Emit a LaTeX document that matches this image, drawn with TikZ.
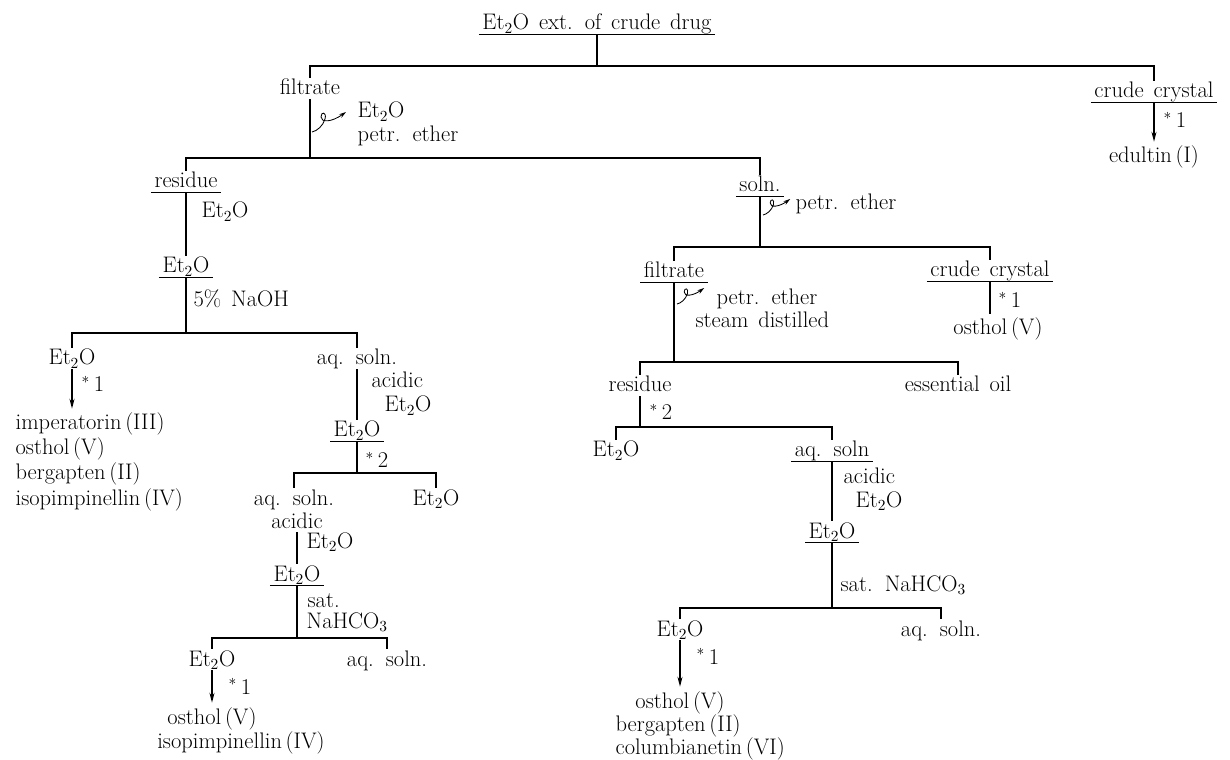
\documentclass[tikz,border=0pt]{standalone}
\usepackage{tikz}
\usetikzlibrary{arrows.meta}
\tikzset{
  curl/.pic={\draw[line width=0.6pt,-{Stealth[length=5pt,width=3pt]}] (0,0) .. controls (5,-1) and (11,-6) .. (13,-13) .. controls (15,-20) and (9,-21) .. (9,-15) .. controls (9,-9) and (20,-10) .. (34,-20);}
}

\begin{document}
\begin{tikzpicture}[x=0.025cm, y=-0.025cm, line width=1.2pt,
    font={\fontsize{16}{20}\selectfont\spaceskip=7pt\relax},
    every node/.style={inner xsep=2pt, inner ysep=1pt, text height=10.5pt, text depth=1.5pt},
    ul/.style={append after command={(\tikzlastnode.south west) edge[line width=0.9pt] (\tikzlastnode.south east)}},
    arr/.style={-{Stealth[length=7pt,width=3.5pt]}, shorten >=3pt},
    lbl/.style={anchor=base west},
    item/.style={anchor=base}]
\useasboundingbox (0,0) rectangle (1230,760);

% extract
\node[item,ul] (top) at (597,30) {Et$_2$O ext. of crude drug};
\coordinate (j0) at (597,66);
\node[item] (filt) at (310,95) {filtrate};
\node[item,ul] (ccA) at (1154,98) {crude crystal};
\draw (top) -- (j0);
\draw (filt.north) |- (j0) -| (ccA.north);
\node[item] (edul) at (1154,163) {edultin\,(I)};
\node[lbl] (sA) at (1160,128) {$^{*}$\,1};
\draw[arr] (ccA) -- (edul);

\pic at (312,132) {curl};
\node[lbl] (rA1) at (354,118) {Et$_2$O};
\node[lbl] (rA2) at (354,142) {petr. ether};
\coordinate (j1) at (310,158);
\draw (filt) -- (j1);
\node[item,ul] (res) at (186,188) {residue};
\node[item,ul] (soln) at (760,192) {soln.};
\draw (res.north) |- (j1) -| (soln.north);

% residue side
\node[lbl] (rB) at (198,218) {Et$_2$O};
\node[item,ul] (etA) at (186,273) {Et$_2$O};
\draw (res) -- (etA);
\node[lbl] (rC) at (190,307) {5\% NaOH};
\coordinate (j2) at (186,333);
\draw (etA) -- (j2);
\node[item] (etB) at (72,365) {Et$_2$O};
\node[item] (aqA) at (357,365) {aq. soln.};
\draw (etB.north) |- (j2) -| (aqA.north);
\node[lbl] (imp) at (12,430) {imperatorin\,(III)};
\node[lbl] (ostA) at (12,455) {osthol\,(V)};
\node[lbl] (berA) at (12,480) {bergapten\,(II)};
\node[lbl] (isoA) at (12,505) {isopimpinellin\,(IV)};
\node[lbl] (sB) at (78,392) {$^{*}$\,1};
\draw[arr] (etB) -- (etB |- imp.north);

\node[lbl] (rD1) at (368,388) {acidic};
\node[lbl] (rD2) at (381,412) {Et$_2$O};
\node[item,ul] (etC) at (357,437) {Et$_2$O};
\draw (aqA) -- (etC);
\node[lbl] (sC) at (362,468) {$^{*}$\,2};
\coordinate (j3) at (357,473);
\draw (etC) -- (j3);
\node[item] (aqB) at (294,505) {aq. soln.};
\node[item] (etD) at (436,505) {Et$_2$O};
\draw (aqB.north) |- (j3) -| (etD.north);
\node[item] (acB) at (297,528) {acidic};
\node[lbl] (rE) at (303,548) {Et$_2$O};
\node[item,ul] (etE) at (297,581) {Et$_2$O};
\draw (acB) -- (etE);
\node[lbl] (rF1) at (304,607) {sat.};
\node[lbl] (rF2) at (303,628) {NaHCO$_3$};
\coordinate (j4) at (297,638);
\draw (etE) -- (j4);
\node[item] (etF) at (212,666) {Et$_2$O};
\node[item] (aqC) at (387,666) {aq. soln.};
\draw (etF.north) |- (j4) -| (aqC.north);
\node[lbl] (sD) at (225,694) {$^{*}$\,1};
\node[item] (ostB) at (212,724) {osthol\,(V)};
\node[item] (isoB) at (241,748) {isopimpinellin\,(IV)};
\draw[arr] (etF) -- (ostB);

% soln. side
\pic[scale=0.8] at (763,215) {curl};
\node[lbl] (rG) at (792,210) {petr. ether};
\coordinate (j5) at (760,247);
\draw (soln) -- (j5);
\node[item,ul] (filtB) at (674,278) {filtrate};
\node[item,ul] (ccB) at (990,277) {crude crystal};
\draw (filtB.north) |- (j5) -| (ccB.north);
\node[lbl] (sE) at (995,308) {$^{*}$\,1};
\node[item] (ostC) at (998,335) {osthol\,(V)};
\draw[shorten >=3pt] (ccB) -- (ccB |- ostC.north);

\pic[scale=0.8] at (677,304) {curl};
\node[lbl] (rH1) at (713,305) {petr. ether};
\node[lbl] (rH2) at (692,328) {steam distilled};
\coordinate (j6) at (674,362);
\draw (filtB) -- (j6);
\node[item] (resB) at (640,392) {residue};
\node[item] (eo) at (958,392) {essential oil};
\draw (resB.north) |- (j6) -| (eo.north);
\node[lbl] (sF) at (646,420) {$^{*}$\,2};
\coordinate (j7) at (640,427);
\draw (resB) -- (j7);
\node[item] (etG) at (616,457) {Et$_2$O};
\node[item,ul] (aqD) at (832,457) {aq. soln};
\draw (etG.north) |- (j7) -| (aqD.north);

\node[lbl] (rI1) at (840,483) {acidic};
\node[lbl] (rI2) at (852,507) {Et$_2$O};
\node[item,ul] (etH) at (832,538) {Et$_2$O};
\draw (aqD) -- (etH);
\node[lbl] (rJ) at (837,591) {sat. NaHCO$_3$};
\coordinate (j8) at (832,608);
\draw (etH) -- (j8);
\node[item] (etI) at (680,636) {Et$_2$O};
\node[item] (aqE) at (941,636) {aq. soln.};
\draw (etI.north) |- (j8) -| (aqE.north);
\node[lbl] (sG) at (693,664) {$^{*}$\,1};
\node[item] (ostD) at (680,708) {osthol\,(V)};
\node[lbl] (berD) at (612,731) {bergapten\,(II)};
\node[lbl] (colD) at (612,754) {columbianetin\,(VI)};
\draw[arr] (etI) -- (ostD);

\end{tikzpicture}
\end{document}
